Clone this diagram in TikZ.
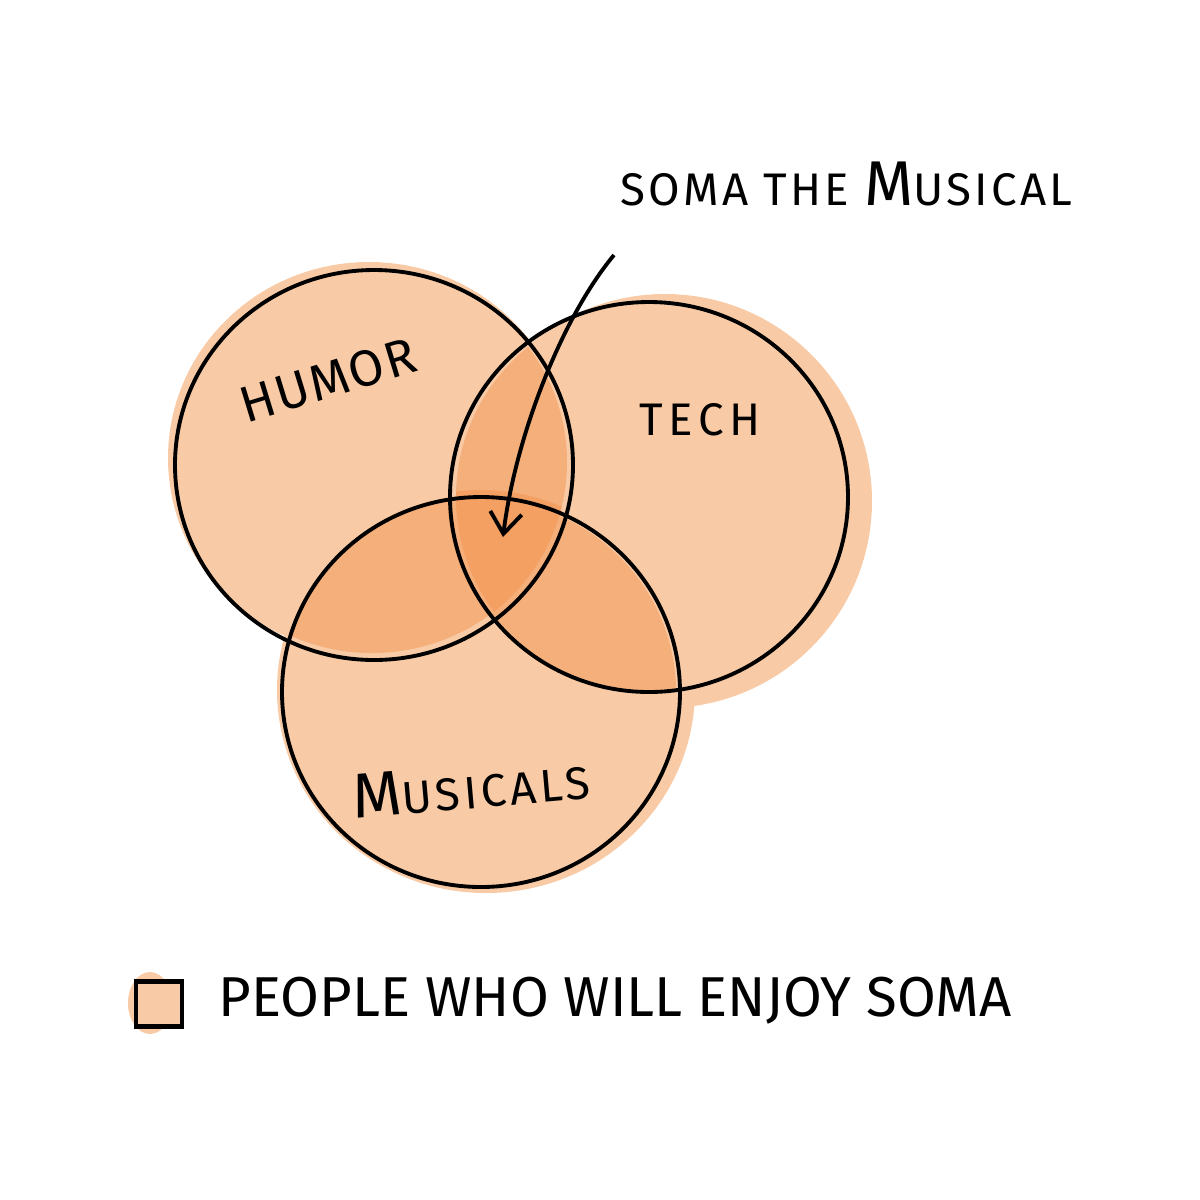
\documentclass[tikz,border=0pt]{standalone}
\usepackage{fontspec}
\setmainfont{Fira Sans}
\usetikzlibrary{arrows.meta}
\definecolor{somapeach}{RGB}{248,203,166}
\definecolor{somamid}{RGB}{245,175,122}
\definecolor{somadark}{RGB}{243,160,98}
\tikzset{
  blob/.style={fill=somapeach, draw=none},
  ring/.style={draw=black, line width=1.1pt},
  lbl/.style={inner sep=0pt, text=black},
}
\newcommand{\bigf}[1]{{\fontsize{18}{18}\selectfont #1}}
\newcommand{\humorpath}{(3.74,4.65) ellipse [x radius=1.99, y radius=1.95]}
\newcommand{\techpath}{(6.49,4.97) ellipse [x radius=1.99, y radius=1.95]}
\newcommand{\muspath}{(4.81,6.92) ellipse [x radius=1.99, y radius=1.95]}
\begin{document}
\begin{tikzpicture}[x=1cm,y=-1cm]
\useasboundingbox (0,0) rectangle (12,12);
% light fill blobs
\fill[blob] (3.69,4.58) ellipse [x radius=2.01, y radius=1.96];
\fill[blob] (6.65,5.01) ellipse [x radius=2.07, y radius=2.07];
\fill[blob] (4.86,6.90) ellipse [x radius=2.09, y radius=2.03];
% pairwise overlaps
\begin{scope}
  \clip (3.70,4.62) ellipse [x radius=1.97, y radius=1.93];
  \fill[somamid] (6.55,4.97) ellipse [x radius=1.99, y radius=1.95];
\end{scope}
\begin{scope}
  \clip (3.72,4.60) ellipse [x radius=1.97, y radius=1.93];
  \fill[somamid] (4.81,6.90) ellipse [x radius=1.99, y radius=1.95];
\end{scope}
\begin{scope}
  \clip (6.49,4.97) ellipse [x radius=1.97, y radius=1.93];
  \fill[somamid] (4.79,6.92) ellipse [x radius=1.97, y radius=1.93];
\end{scope}
% triple overlap
\begin{scope}
  \clip (3.70,4.62) ellipse [x radius=1.97, y radius=1.93];
  \clip (6.55,4.97) ellipse [x radius=1.99, y radius=1.95];
  \fill[somadark] (4.81,6.85) ellipse [x radius=1.99, y radius=1.95];
\end{scope}
% outlines
\draw[ring] \humorpath;
\draw[ring] \techpath;
\draw[ring] \muspath;
% labels
\node[lbl, rotate=17] (humor) at (3.28,3.80) {\fontsize{14.5}{14.5}\selectfont\addfontfeature{LetterSpace=4}HUMOR};
\node[lbl] (tech) at (7.00,4.20) {\fontsize{13}{13}\selectfont\addfontfeature{LetterSpace=12}TECH};
\node[lbl, rotate=5] (musicals) at (4.71,7.87) {\fontsize{13}{13}\selectfont\addfontfeature{LetterSpace=8}\bigf{M}USICALS};
\node[lbl, anchor=base west] (title) at (6.20,2.05) {\fontsize{13}{13}\selectfont\addfontfeature{LetterSpace=7}SOMA THE \bigf{M}USICAL};
% arrow
\coordinate (start) at (6.14,2.55);
\coordinate (tip) at (5.03,5.37);
\draw[line width=1.1pt, -{Straight Barb[length=6pt, width=9pt]}] (start) .. controls (5.60,3.20) and (5.15,4.40) .. (tip);
% legend
\fill[blob] (1.50,10.03) ellipse [x radius=0.22, y radius=0.31];
\node[draw=black, line width=1.3pt, fill=somapeach, minimum width=0.46cm, minimum height=0.45cm, inner sep=0pt] (key) at (1.59,10.04) {};
\node[lbl, anchor=base west] (legend) at (2.18,10.16) {\fontsize{16}{16}\selectfont PEOPLE WHO WILL ENJOY SOMA};
\end{tikzpicture}
\end{document}
